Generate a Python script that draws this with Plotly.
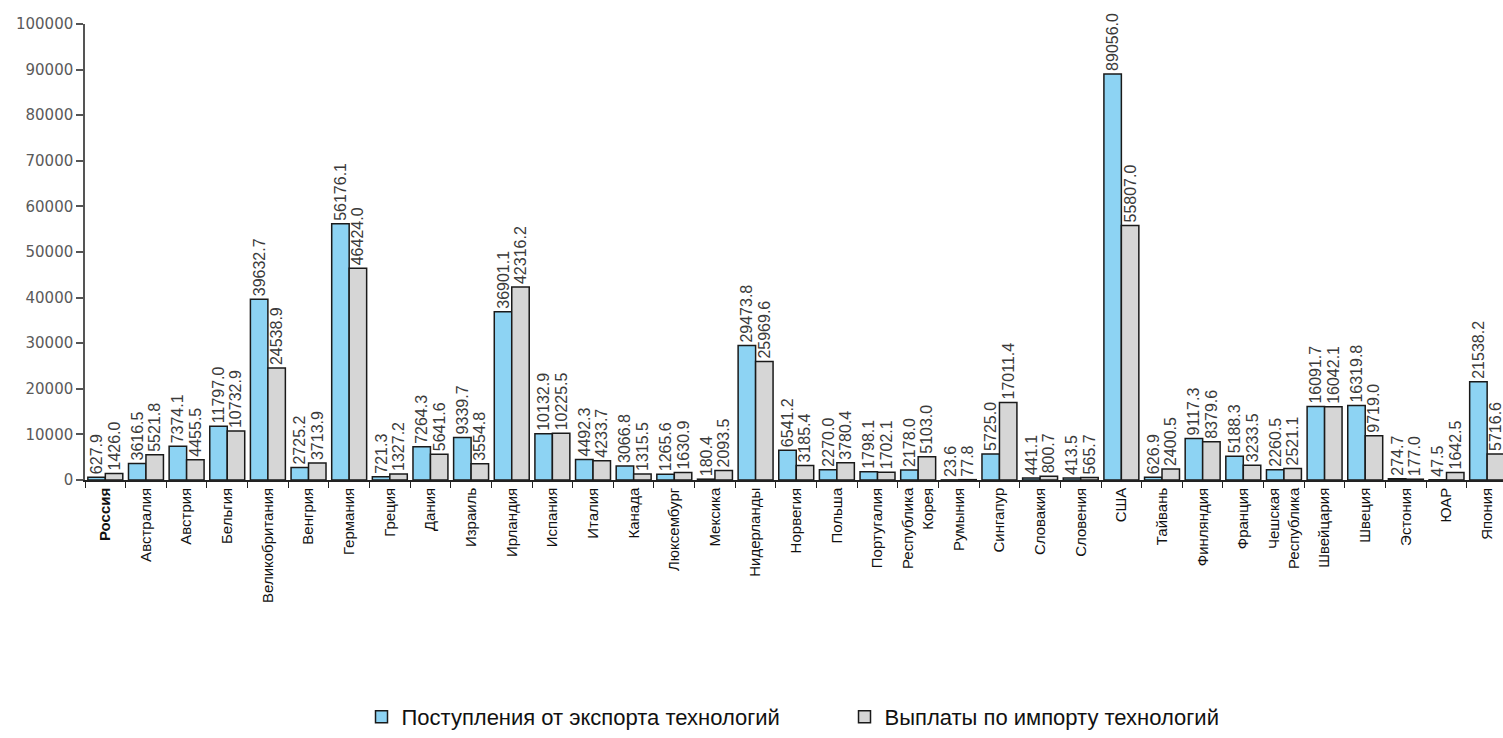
import plotly.graph_objects as go

countries = ["<b>Россия</b>", "Австралия", "Австрия", "Бельгия", "Великобритания", "Венгрия",
             "Германия", "Греция", "Дания", "Израиль", "Ирландия", "Испания", "Италия",
             "Канада", "Люксембург", "Мексика", "Нидерланды", "Норвегия", "Польша",
             "Португалия", "Республика<br>Корея", "Румыния", "Сингапур", "Словакия",
             "Словения", "США", "Тайвань", "Финляндия", "Франция", "Чешская<br>Республика",
             "Швейцария", "Швеция", "Эстония", "ЮАР", "Япония"]

export_vals = [627.9, 3616.5, 7374.1, 11797.0, 39632.7, 2725.2, 56176.1, 721.3, 7264.3,
               9339.7, 36901.1, 10132.9, 4492.3, 3066.8, 1265.6, 180.4, 29473.8, 6541.2,
               2270.0, 1798.1, 2178.0, 23.6, 5725.0, 441.1, 413.5, 89056.0, 626.9, 9117.3,
               5188.3, 2260.5, 16091.7, 16319.8, 274.7, 47.5, 21538.2]

import_vals = [1426.0, 5521.8, 4455.5, 10732.9, 24538.9, 3713.9, 46424.0, 1327.2, 5641.6,
               3554.8, 42316.2, 10225.5, 4233.7, 1315.5, 1630.9, 2093.5, 25969.6, 3185.4,
               3780.4, 1702.1, 5103.0, 77.8, 17011.4, 800.7, 565.7, 55807.0, 2400.5, 8379.6,
               3233.5, 2521.1, 16042.1, 9719.0, 177.0, 1642.5, 5716.6]

series_names = ["Поступления от экспорта технологий", "Выплаты по импорту технологий"]
y_ticks = list(range(0, 100001, 10000))
y_tick_labels = [str(v) for v in y_ticks]

base = "Liberation Sans, Arial"
label_font = dict(family=base, size=16, color="#3a3a3a")

fig = go.Figure()
fig.add_trace(go.Bar(
    x=countries, y=export_vals, name=series_names[0],
    marker=dict(color="#8dd3f3", line=dict(color="#1a1a1a", width=1.5)),
    text=[f"{v:.1f}" for v in export_vals], textposition="outside", textangle=-90,
    textfont=label_font, constraintext="none", cliponaxis=False,
))
fig.add_trace(go.Bar(
    x=countries, y=import_vals, name=series_names[1],
    marker=dict(color="#d6d6d6", line=dict(color="#1a1a1a", width=1.5)),
    text=[f"{v:.1f}" for v in import_vals], textposition="outside", textangle=-90,
    textfont=label_font, constraintext="none", cliponaxis=False,
))

fig.update_layout(
    width=1503, height=738,
    barmode="group", bargap=0.14, bargroupgap=0.0,
    plot_bgcolor="white", paper_bgcolor="white",
    margin=dict(l=85, r=0, t=24, b=256),
    font=dict(family=base, color="#222222"),
    legend=dict(orientation="h", x=0.195, xanchor="left", y=-0.475, yanchor="top",
                font=dict(family=base, size=22, color="#111111"),
                tracegroupgap=0, entrywidth=438),
    showlegend=True,
)
fig.update_xaxes(
    tickangle=-90, ticks="outside", tickson="boundaries", ticklen=6, tickcolor="#222222",
    showline=True, linecolor="#222222", linewidth=1.5, automargin=False,
    tickfont=dict(family=base, size=15, color="#111111"),
    range=[-0.5, 34.39],
)
fig.update_yaxes(
    range=[0, 100000], tickvals=y_ticks, ticktext=y_tick_labels, ticks="outside", ticklen=7,
    tickcolor="#555555", tickwidth=1.5, automargin=False,
    showline=True, linecolor="#555555", linewidth=1.5, showgrid=False, zeroline=False,
    tickfont=dict(family="DejaVu Sans, Verdana", size=15, color="#5a5a5a"),
)

fig.write_html("out.html", config={"displayModeBar": False},
               post_script="document.body.style.margin='0px';document.body.style.overflow='hidden';")
